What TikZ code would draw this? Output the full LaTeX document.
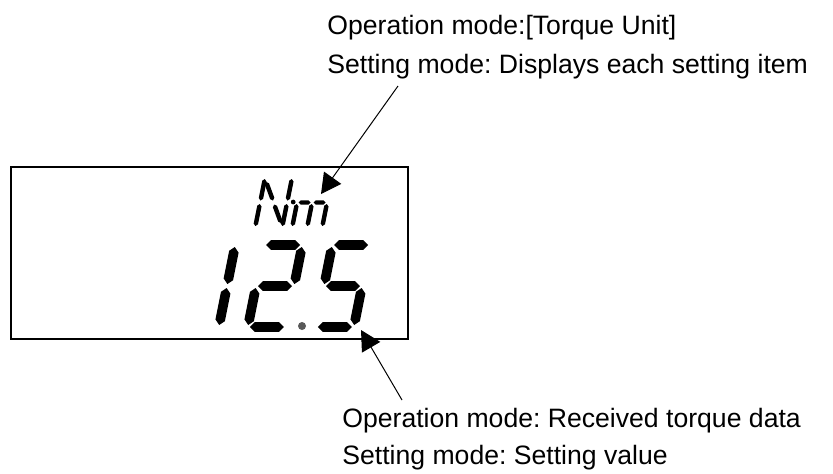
\documentclass[tikz,border=0pt]{standalone}
\usepackage{fontspec}
\setmainfont{Liberation Sans}
\usetikzlibrary{arrows.meta,calc}
\frenchspacing

% one tapered LCD segment between two tips, #1 = half width
\newcommand{\lcdseg}[3][2.4pt]{%
  \fill (#2) -- ($(#2)!#1!(#3)!#1!90:(#3)$) -- ($(#3)!#1!(#2)!#1!-90:(#2)$) -- (#3)
        -- ($(#3)!#1!(#2)!#1!90:(#2)$) -- ($(#2)!#1!(#3)!#1!-90:(#3)$) -- cycle;}
\newcommand{\segA}{\lcdseg{6,86}{40,86}}
\newcommand{\segB}{\lcdseg{42,84}{42,47}}
\newcommand{\segC}{\lcdseg{42,43}{42,6}}
\newcommand{\segD}{\lcdseg{6,4}{40,4}}
\newcommand{\segE}{\lcdseg{4,43}{4,6}}
\newcommand{\segF}{\lcdseg{4,84}{4,47}}
\newcommand{\segG}{\lcdseg{6,45}{40,45}}

\begin{document}
\begin{tikzpicture}[x=0.5pt, y=-0.5pt,
    lbl/.style={anchor=base west, inner sep=0pt, align=left},
    arr/.style={-{Triangle[length=10pt,width=10.5pt]}, line width=0.5pt},
    digit/.style={shift={(#1,331)}, x={(0.5pt,0pt)}, y={(0.1pt,0.5pt)}},
    unitsym/.style={shift={(253,228)}, x={(0.5pt,0pt)}, y={(0.1pt,0.5pt)}}
  ]
  \useasboundingbox (0,0) rectangle (833,473);

  % LCD window
  \node[draw, line width=0.8pt, anchor=north west, inner sep=0pt,
        minimum width=198.5pt, minimum height=86pt] (lcd) at (10,166) {};

  % unit "N.m"
  \begin{scope}[unitsym]
    \lcdseg[1.1pt]{2,49}{2,27.5}   \lcdseg[1.1pt]{2,24}{2,2}
    \lcdseg[1.1pt]{4,46}{14.5,27.5} \lcdseg[1.1pt]{16.5,23.5}{27,5}
    \lcdseg[1.1pt]{29,49}{29,27.5} \lcdseg[1.1pt]{29,24}{29,2}
    \fill (35,26) circle (1.2pt);
    \lcdseg[1.1pt]{40.5,25.5}{52.5,25.5} \lcdseg[1.1pt]{55.5,25.5}{67.5,25.5}
    \lcdseg[1.1pt]{39,24}{39,2} \lcdseg[1.1pt]{54,24}{54,2} \lcdseg[1.1pt]{69,24}{69,2}
  \end{scope}

  % value "12.5"
  \begin{scope}[digit=176] \segB \segC \end{scope}
  \begin{scope}[digit=243] \segA \segB \segG \segE \segD \end{scope}
  \begin{scope}[digit=311] \segA \segF \segG \segC \segD \end{scope}
  \fill[black!65] (302,326) circle (2pt);

  % labels
  \node[lbl, font=\fontsize{13.3}{19.5}\selectfont] (toplbl) at (327,73)
    {Operation mode:[Torque Unit]\\Setting mode: Displays each setting item};
  \node[lbl, font=\fontsize{13.3}{18.5}\selectfont] (botlbl) at (342,464)
    {Operation mode: Received torque data\\Setting mode: Setting value};

  \coordinate (unitfrom) at (398,86);
  \coordinate (unitto)   at (321,194);
  \coordinate (valfrom)  at (402,400);
  \coordinate (valto)    at (361,330);

  \draw[arr] (unitfrom) -- (unitto);
  \draw[arr] (valfrom) -- (valto);
\end{tikzpicture}
\end{document}
